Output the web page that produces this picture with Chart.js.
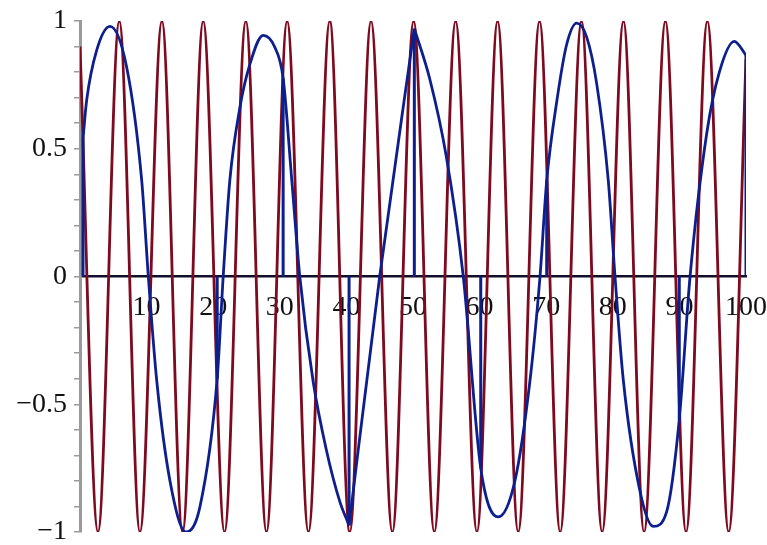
<!DOCTYPE html>
<html>
<head>
<meta charset="utf-8">
<script src="https://cdn.jsdelivr.net/npm/chart.js@4/dist/chart.umd.min.js"></script>
<style>
  html, body { margin: 0; padding: 0; background: #fff; }
  #wrap { width: 767px; height: 545px; }
</style>
</head>
<body>
<div id="wrap"><canvas id="plot" width="767" height="545"></canvas></div>
<script>
(function () {
  'use strict';

  // red curve: turning points
  const redX = [0, 2.7, 5.9, 9.0, 12.3, 15.4, 18.5, 21.7, 24.9, 28.0, 31.1, 34.3, 37.5, 40.5, 43.7, 46.9,
    50.1, 53.2, 56.4, 59.6, 62.7, 65.8, 69.0, 72.1, 75.3, 78.4, 81.6, 84.7, 87.9, 91.0, 94.2, 97.4, 100];
  const redY = [0.9, -1, 1, -1, 1, -1, 1, -1, 1, -1, 1, -1, 1, -1, 1, -1,
    1, -1, 1, -1, 1, -1, 1, -1, 1, -1, 1, -1, 1, -1, 1, -1, 0.85];

  // blue curve, null breaks it at the sharp corners (40.4 and 50.2)
  const blueX = [0.45, 1.0, 2.5, 4.5, 7.0, 9.26, 10.26, 11.52, 13.51, 15.92, 18.02, 20.6, 21.5, 22.5, 24.0,
    25.5, 27.5, 29.2, 30.5, 31.8, 33.0, 35.0, 37.0, 39.0, 40.4,
    40.4,
    40.4, 45.0, 50.2,
    50.2,
    50.2, 52.5, 55.0, 57.55, 60.17, 62.8, 65.3, 67.57, 69.07, 70.08, 71.58, 73.08, 74.58,
    76.08, 77.58, 79.32, 80.33, 81.58, 84.08, 86.08, 88.09, 89.98, 91.6, 94.1, 96.0, 98.24, 100];
  const blueY = [0.54, 0.69, 0.885, 0.979, 0.82, 0.377, 0, -0.407, -0.80, -1.0, -0.90, -0.40, 0, 0.377, 0.66,
    0.83, 0.944, 0.90, 0.776, 0.377, 0, -0.41, -0.68, -0.88, -0.974,
    null,
    -0.974, 0, 0.97,
    null,
    0.97, 0.775, 0.47, 0, -0.75, -0.941, -0.80, -0.406, 0, 0.376, 0.684, 0.909, 0.992,
    0.937, 0.755, 0.376, 0, -0.406, -0.84, -0.978, -0.92, -0.56, 0, 0.56, 0.8, 0.92, 0.866];

  // vertical blue strokes that drop to the axis
  const spikeX = [0.45, 20.6, 30.5, 40.4, 50.2, 60.17, 70.08, 89.98, 100];
  const spikeTop = [0.54, -0.40, 0.776, -0.974, 0.97, -0.75, 0.376, -0.56, 0.866];

  const xTickLabels = ['10', '20', '30', '40', '50', '60', '70', '80', '90', '100'];
  const yTickValues = [-1, -0.5, 0, 0.5, 1];
  const yTickLabels = ['\u22121', '\u22120.5', '0', '0.5', '1'];

  const RED = '#7e0a1f';
  const BLUE = '#0d1f8e';
  const FONT = { family: "'Liberation Serif', 'Times New Roman', serif", size: 28 };

  function toPoints(xs, ys) {
    return xs.map((x, i) => ({ x: x, y: ys[i] }));
  }

  function spikePoints() {
    const pts = [];
    spikeX.forEach((x, i) => {
      pts.push({ x: x, y: 0 }, { x: x, y: spikeTop[i] }, { x: x, y: null });
    });
    return pts;
  }

  const ctxEl = document.getElementById('plot');

  new Chart(ctxEl, {
    type: 'line',
    data: {
      datasets: [
        {
          data: toPoints(blueX, blueY),
          borderColor: BLUE,
          borderWidth: 2.8,
          pointRadius: 0,
          fill: false,
          cubicInterpolationMode: 'monotone',
          order: 0,
        },
        {
          data: spikePoints(),
          borderColor: BLUE,
          borderWidth: 3,
          pointRadius: 0,
          fill: false,
          tension: 0,
          order: 0,
        },
        {
          data: toPoints(redX, redY),
          borderColor: RED,
          borderWidth: 2.8,
          pointRadius: 0,
          fill: false,
          cubicInterpolationMode: 'monotone',
          order: 2,
        },
      ],
    },
    options: {
      responsive: false,
      animation: false,
      layout: { padding: { left: 0, right: 21, top: 21, bottom: 13 } },
      plugins: { legend: { display: false }, tooltip: { enabled: false } },
      scales: {
        x: {
          type: 'linear',
          min: 0,
          max: 100,
          position: { y: 0 },
          z: 1,
          border: { display: true, color: '#10102a', width: 2.5 },
          grid: { display: false, drawTicks: false },
          ticks: {
            stepSize: 10,
            padding: 14,
            autoSkip: false,
            maxRotation: 0,
            color: '#111',
            font: FONT,
            callback: (v) => xTickLabels.includes(String(v)) ? String(v) : '',
          },
          afterFit: (s) => {
            s.height = 0;
            s.paddingLeft = 0;
            s.paddingRight = 0;
          },
        },
        y: {
          type: 'linear',
          min: -1,
          max: 1,
          border: { display: true, color: '#9a9a9a', width: 3 },
          grid: { drawOnChartArea: false, drawTicks: true, tickLength: 6, tickColor: '#9a9a9a', lineWidth: 1.5 },
          ticks: {
            stepSize: 0.1,
            maxTicksLimit: 21,
            autoSkip: false,
            padding: 7,
            color: '#111',
            font: FONT,
            callback: (v) => {
              const i = yTickValues.findIndex((t) => Math.abs(t - v) < 1e-6);
              return i >= 0 ? yTickLabels[i] : '';
            },
          },
          afterFit: (s) => {
            s.width = 80;
            s.paddingTop = 0;
            s.paddingBottom = 0;
          },
        },
      },
    },
  });
})();
</script>
</body>
</html>
